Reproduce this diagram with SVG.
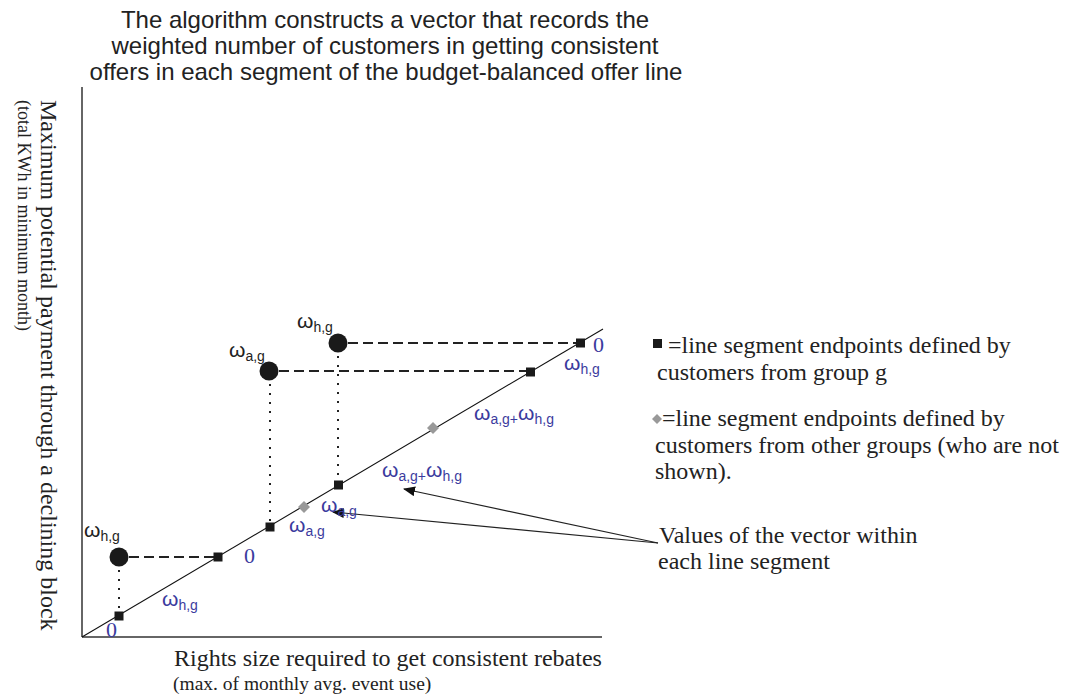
<svg xmlns="http://www.w3.org/2000/svg" width="1065" height="696" viewBox="0 0 1065 696">
<style>
.title{font-family:"Liberation Sans",Arial,sans-serif;font-size:24px;fill:#222;text-anchor:middle}
.serif{font-family:"Liberation Serif","Times New Roman",serif;font-size:24px;fill:#222}
.serif2{font-family:"Liberation Serif","Times New Roman",serif;font-size:19.5px;fill:#222}
.om{font-family:"Liberation Sans",Arial,sans-serif;font-size:21px}
.sub{font-size:14px}
.blue{fill:#3b3b9e}
.blk{fill:#222}
.zero{font-family:"Liberation Serif","Times New Roman",serif;font-size:22px;fill:#3b3b9e}
.dash{stroke:#222;stroke-width:2;stroke-dasharray:10,5;fill:none}
.dot{stroke:#222;stroke-width:2;stroke-dasharray:2,7;fill:none}
.sq{fill:#1a1a1a}
.dia{fill:#999}
.pt{fill:#1a1a1a}
.arr{stroke:#222;stroke-width:1.2;fill:none;marker-end:url(#ah)}
</style>
<defs>
<marker id="ah" markerWidth="12" markerHeight="10" refX="11" refY="5" orient="auto" markerUnits="userSpaceOnUse">
<path d="M0,0 L12,5 L0,10 Z" fill="#111"/>
</marker>
</defs>
<rect width="1065" height="696" fill="#fff"/>
<g id="title">
<text class="title" x="385" y="28">The algorithm constructs a vector that records the</text>
<text class="title" x="385" y="54">weighted number of customers in getting consistent</text>
<text class="title" x="386" y="80">offers in each segment of the budget-balanced offer line</text>
</g>
<g id="axes" stroke="#333" stroke-width="1.5" fill="none">
<line x1="82" y1="87" x2="82" y2="637"/>
<line x1="82" y1="637" x2="602" y2="637"/>
</g>
<g id="axis-labels">
<text class="serif" transform="translate(41,100) rotate(90)">Maximum potential payment through a declining block</text>
<text class="serif2" transform="translate(18,100) rotate(90)" style="font-size:18px">(total KWh in minimum month)</text>
<text class="serif" x="174" y="666">Rights size required to get consistent rebates</text>
<text class="serif2" x="173" y="690">(max. of monthly avg. event use)</text>
</g>
<g id="connectors">
<line x1="82" y1="637" x2="603" y2="329" stroke="#111" stroke-width="1.1"/>
<line class="dash" x1="348" y1="343" x2="576" y2="343"/>
<line class="dash" x1="279" y1="371" x2="526" y2="371"/>
<line class="dash" x1="129" y1="557" x2="214" y2="557"/>
<line class="dot" x1="338" y1="356" x2="338" y2="480"/>
<line class="dot" x1="270" y1="384" x2="270" y2="522"/>
<line class="dot" x1="119" y1="570" x2="119" y2="611"/>
<line class="arr" x1="658" y1="543" x2="404" y2="489"/>
<line class="arr" x1="658" y1="543" x2="333" y2="512"/>
</g>
<g id="offers">
<circle class="pt" cx="119" cy="557" r="9.5"/>
<circle class="pt" cx="269" cy="371" r="9.5"/>
<circle class="pt" cx="338" cy="343" r="9.5"/>
</g>
<g id="endpoints">
<rect class="sq" x="114.5" y="611.5" width="9" height="9"/>
<rect class="sq" x="213.5" y="552.5" width="9" height="9"/>
<rect class="sq" x="265.5" y="522.5" width="9" height="9"/>
<rect class="sq" x="334" y="480.5" width="9" height="9"/>
<rect class="sq" x="526" y="367.5" width="9" height="9"/>
<rect class="sq" x="576" y="338.5" width="9" height="9"/>
<polygon class="dia" points="304,501 310,507 304,513 298,507"/>
<polygon class="dia" points="433,422 439,428 433,434 427,428"/>
</g>
<g id="offer-labels">
<text class="om blk" x="297" y="328">ω<tspan class="sub" dy="4">h,g</tspan></text>
<text class="om blk" x="229" y="357">ω<tspan class="sub" dy="4">a,g</tspan></text>
<text class="om blk" x="84" y="537">ω<tspan class="sub" dy="4">h,g</tspan></text>
</g>
<g id="vector-labels">
<text class="zero" x="593" y="352">0</text>
<text class="om blue" x="564" y="370">ω<tspan class="sub" dy="4">h,g</tspan></text>
<text class="om blue" x="474" y="420">ω<tspan class="sub" dy="4">a,g+</tspan><tspan dy="-4">ω</tspan><tspan class="sub" dy="4">h,g</tspan></text>
<text class="om blue" x="382" y="477">ω<tspan class="sub" dy="4">a,g+</tspan><tspan dy="-4">ω</tspan><tspan class="sub" dy="4">h,g</tspan></text>
<text class="om blue" x="321" y="512">ω<tspan class="sub" dy="4">a,g</tspan></text>
<text class="om blue" x="289" y="532">ω<tspan class="sub" dy="4">a,g</tspan></text>
<text class="zero" x="244" y="563">0</text>
<text class="om blue" x="162" y="606">ω<tspan class="sub" dy="4">h,g</tspan></text>
<text class="zero" x="106" y="637">0</text>
</g>
<g id="legend">
<rect class="sq" x="653" y="339" width="9" height="9"/>
<text class="serif" x="668" y="353">=line segment endpoints defined by</text>
<text class="serif" x="657" y="380">customers from group g</text>
<polygon class="dia" points="657,414 662,419 657,424 652,419"/>
<text class="serif" x="662" y="426">=line segment endpoints defined by</text>
<text class="serif" x="655" y="453">customers from other groups (who are not</text>
<text class="serif" x="655" y="479">shown).</text>
<text class="serif" x="659" y="543">Values of the vector within</text>
<text class="serif" x="658" y="569">each line segment</text>
</g>
</svg>
